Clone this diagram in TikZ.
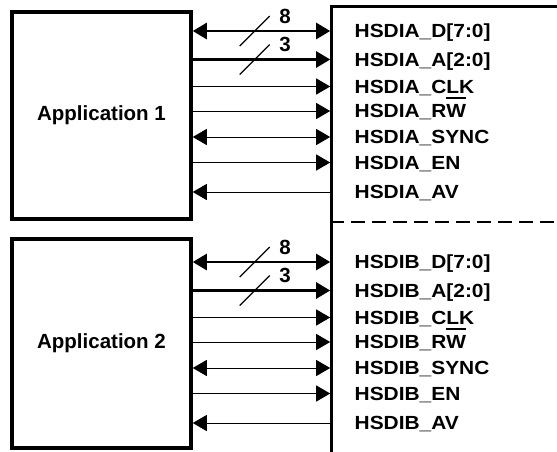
\documentclass[tikz,border=0pt]{standalone}
\usepackage{fontspec}
\setmainfont{Liberation Sans}
\newfontfamily\sigfont[FakeStretch=1.1]{Liberation Sans}
\usetikzlibrary{arrows.meta,calc}
\newcommand{\notbar}[1]{\leavevmode\vbox{\hrule height 2pt\kern 5.5pt\hbox{#1}}}
\tikzset{
  app box/.style={draw,line width=3.5pt,minimum width=179pt,inner sep=0pt,font=\fontsize{20.5}{24}\selectfont\bfseries},
  port box/.style={draw,line width=3.2pt,minimum width=288pt,minimum height=448pt,inner sep=0pt},
  sig label/.style={anchor=west,inner sep=0pt,text height=13pt,text depth=0pt,font=\sigfont\fontsize{19}{22}\selectfont\bfseries},
  sig to/.style={line width=1pt,->},
  sig from/.style={line width=1pt,<-},
  sig both/.style={line width=1pt,<->},
  bus to/.style={line width=2.6pt,->},
  bus both/.style={line width=2.6pt,<->},
  bus slash/.style={line width=1.2pt},
  bus width/.style={right=9pt,inner sep=0pt,font=\fontsize{20.5}{24}\selectfont\bfseries},
  divider/.style={line width=2pt,dash pattern=on 14pt off 7pt},
}
\begin{document}
\begin{tikzpicture}[x=1pt,y=-1pt,>={Triangle[length=14pt,width=16pt]}]
  \useasboundingbox (0,0) rectangle (557,451);
  % the two applications and the interface
  \node[app box,minimum height=207pt] (app1) at (101.5,115.5) {Application 1};
  \node[app box,minimum height=209pt] (app2) at (101.5,343.5) {Application 2};
  \node[port box] (port) at (475.8,230.8) {};
  \coordinate (split) at (475.8,222);
  \draw[divider] (port.west |- split) -- (port.east |- split);
  % signals
  \foreach \blk/\app/\top in {A/app1/31,B/app2/262}{
    \foreach \i/\off/\sig/\kind in {1/0/D[7:0]/bus both,2/28.5/A[2:0]/bus to,3/55.5/CLK/sig to,
        4/80/R\notbar{W}/sig to,5/106/SYNC/sig both,6/131.5/EN/sig to,7/161/AV/sig from}{
      \node[sig label] (sig\blk\i) at (354.5,\top+\off) {HSDI\blk\_\sig};
      \draw[\kind] (\app.east |- sig\blk\i) -- (port.west |- sig\blk\i);
    }
    % bus widths
    \foreach \i/\n in {1/8,2/3}{
      \draw[bus slash] ($(\app.east |- sig\blk\i)+(47,15)$) -- ++(30,-30) node[bus width] {\n};
    }
  }
\end{tikzpicture}
\end{document}
